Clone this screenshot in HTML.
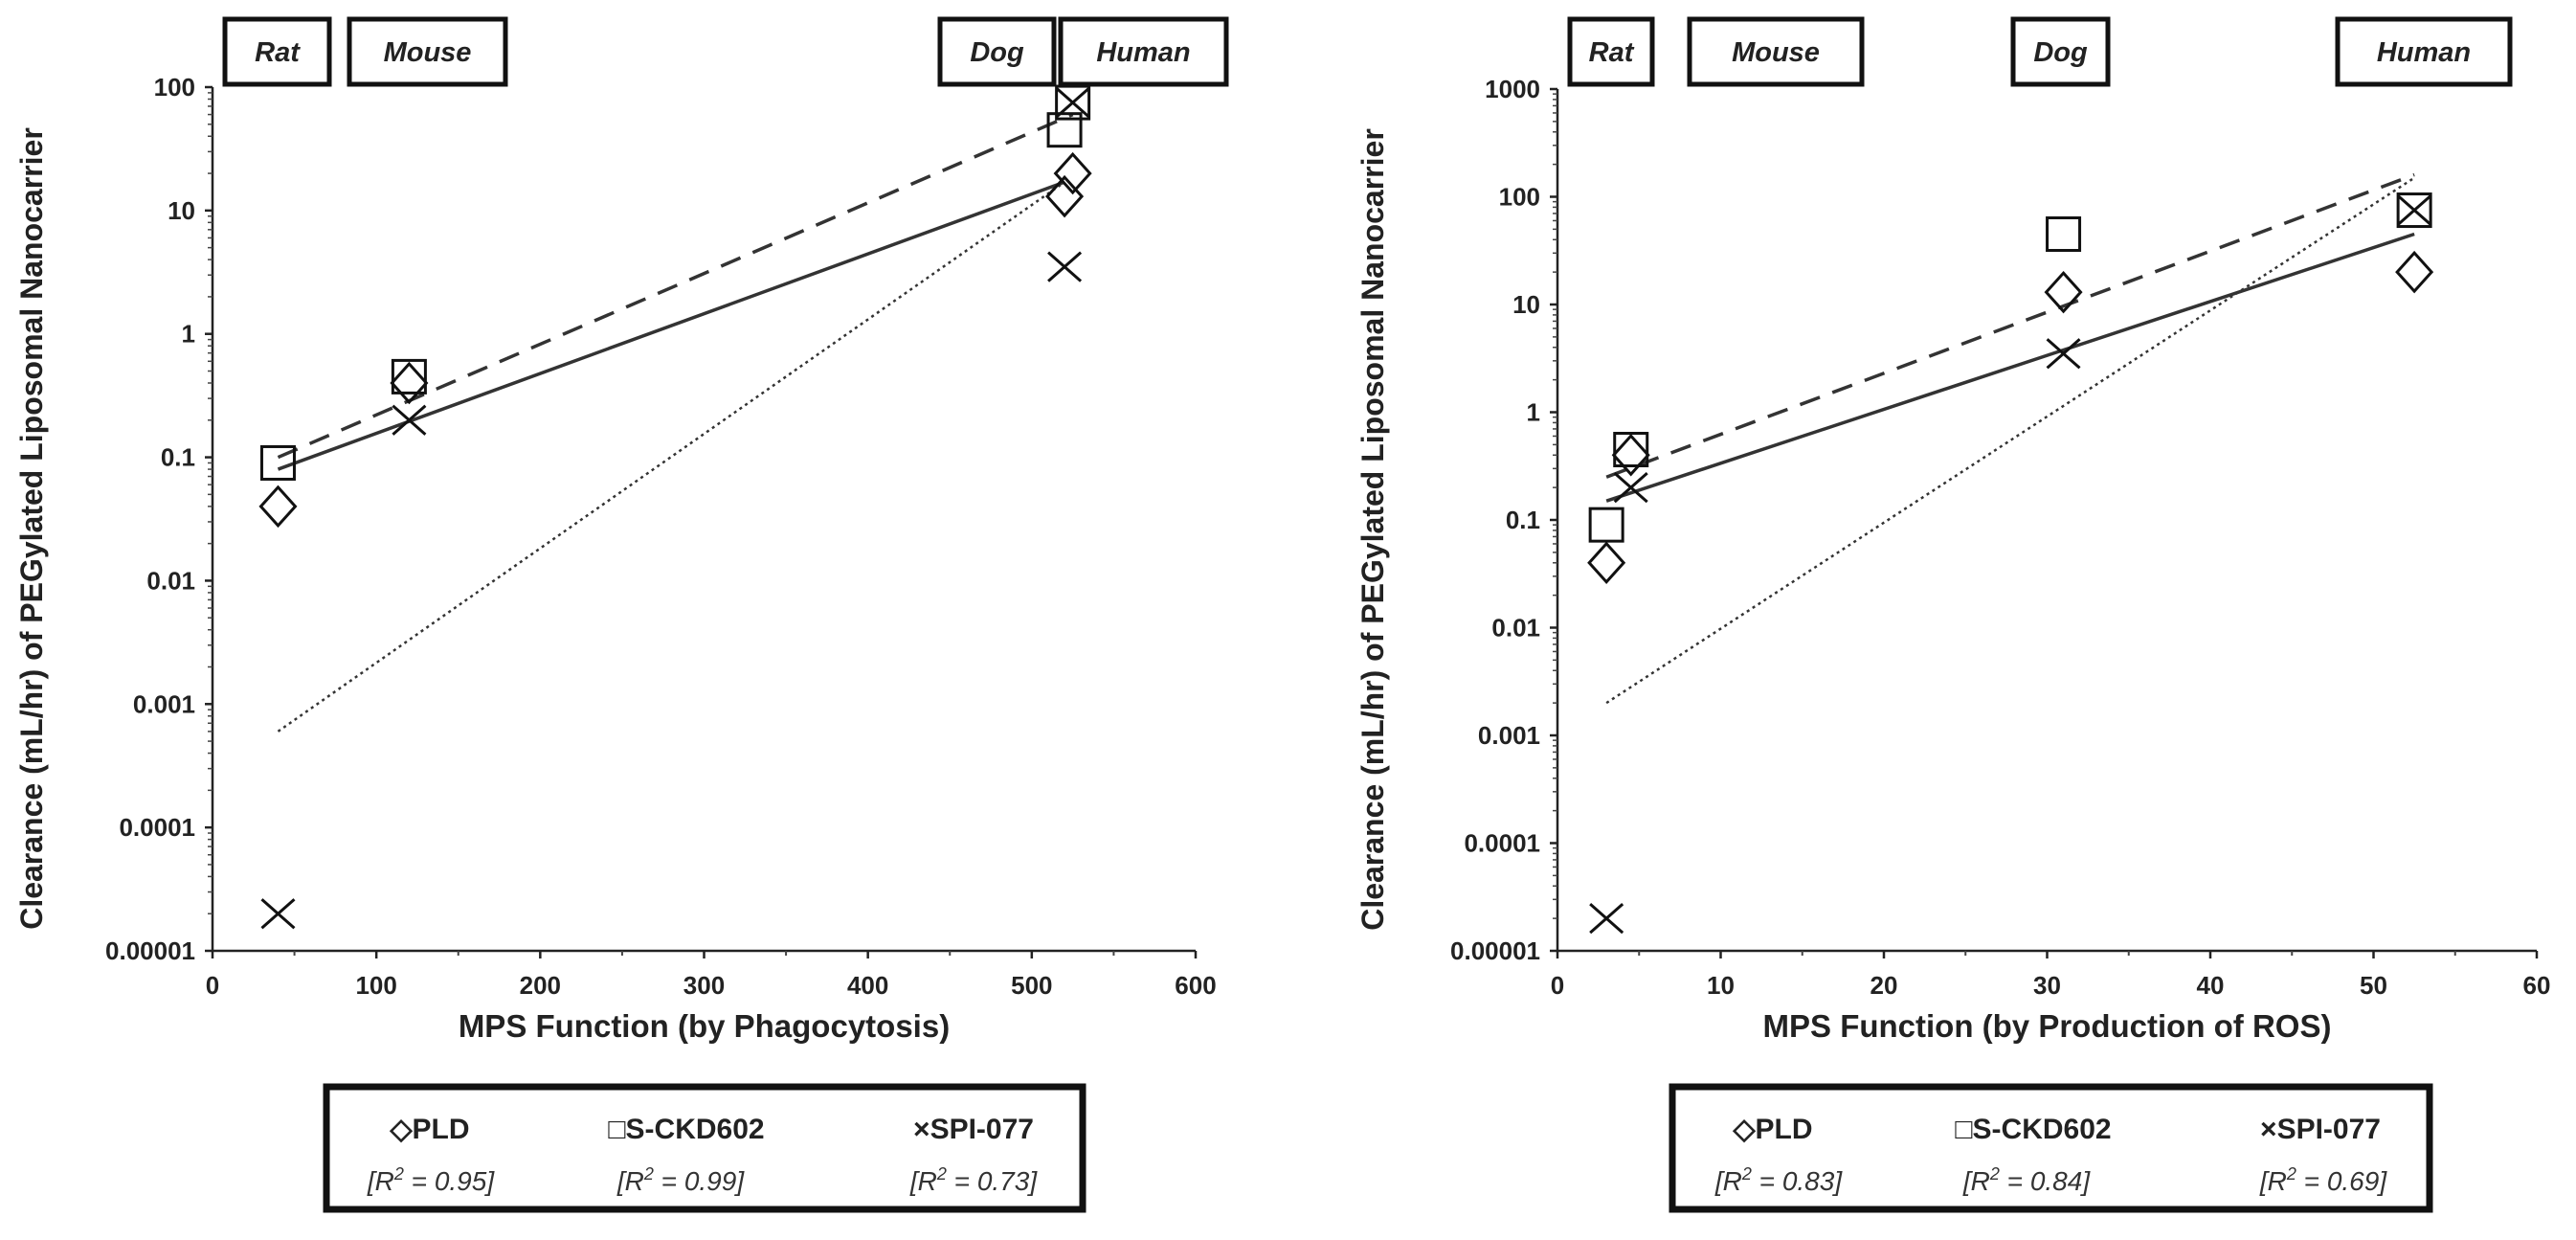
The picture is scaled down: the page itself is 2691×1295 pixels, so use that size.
<!DOCTYPE html>
<html><head><meta charset="utf-8">
<style>
html,body{margin:0;padding:0;background:#fff;}
svg{display:block;font-family:"Liberation Sans",Arial,sans-serif;}
</style></head>
<body>
<svg id="fig" width="2691" height="1295" viewBox="0 0 2691 1295" xmlns="http://www.w3.org/2000/svg"></svg>
<script>
// ---- data ----
const speciesNames = ["Rat","Mouse","Dog","Human"];
const leftX = [40, 120, 520, 525];
const rightX = [3, 4.5, 31, 52.5];
const pldValues = [0.04, 0.4, 13, 20];
const sckdValues = [0.09, 0.45, 45, 75];
const spiValues = [0.00002, 0.2, 3.5, 75];
const leftTrendPLD = [[40, 0.08],[520, 17]];
const leftTrendSCKD = [[40, 0.1],[525, 60]];
const leftTrendSPI = [[40, 0.0006],[520, 17]];
const rightTrendPLD = [[3, 0.15],[52.5, 45]];
const rightTrendSCKD = [[3, 0.25],[52.5, 160]];
const rightTrendSPI = [[3, 0.002],[52.5, 150]];
const leftXTicks = [0,100,200,300,400,500,600];
const rightXTicks = [0,10,20,30,40,50,60];
const leftYTicks = ["0.00001","0.0001","0.001","0.01","0.1","1","10","100"];
const rightYTicks = ["0.00001","0.0001","0.001","0.01","0.1","1","10","100","1000"];
const leftR2 = ["0.95","0.99","0.73"];
const rightR2 = ["0.83","0.84","0.69"];

const NS="http://www.w3.org/2000/svg";
const svg=document.getElementById('fig');
function el(tag,attrs,parent,text){const e=document.createElementNS(NS,tag);for(const k in attrs)e.setAttribute(k,attrs[k]);if(text!==undefined)e.textContent=text;(parent||svg).appendChild(e);return e;}

function makeChart(cfg){
  const g=el('g',{});
  
  
  const {x0,x1,y0,y1,xmax,ymin,ymax}=cfg;
  const sx=v=>x0+(v/xmax)*(x1-x0);
  const lmin=Math.log10(ymin),lmax=Math.log10(ymax);
  const sy=v=>y0-(Math.log10(v)-lmin)/(lmax-lmin)*(y0-y1);
  const ax=el('line',{x1:x0,y1:y0,x2:x0,y2:y1,stroke:'#222','stroke-width':2.5},g);
  
  const bx=el('line',{x1:x0,y1:y0,x2:x1,y2:y0,stroke:'#222','stroke-width':2.5},g);
  
  cfg.yTicks.forEach(t=>{
    const v=parseFloat(t),y=sy(v);
    el('line',{x1:x0-8,y1:y,x2:x0,y2:y,stroke:'#222','stroke-width':2.5},g);
    const tx=el('text',{x:x0-18,y:y+9,'text-anchor':'end','font-size':26,'font-weight':'bold',fill:'#222'},g,t);
    
    if(v<ymax){for(let m=2;m<10;m++){const ym=sy(v*m);el('line',{x1:x0-5,y1:ym,x2:x0,y2:ym,stroke:'#444','stroke-width':1.5},g);}}
  });
  cfg.xTicks.forEach((t,i)=>{
    const x=sx(t);
    el('line',{x1:x,y1:y0,x2:x,y2:y0+8,stroke:'#222','stroke-width':2.5},g);
    if(i<cfg.xTicks.length-1){const xm=sx(t+(cfg.xTicks[1]-cfg.xTicks[0])/2);el('line',{x1:xm,y1:y0,x2:xm,y2:y0+5,stroke:'#444','stroke-width':2},g);}
    const tx=el('text',{x:x,y:y0+45,'text-anchor':'middle','font-size':26,'font-weight':'bold',fill:'#222'},g,String(t));
    
  });
  const yt=el('text',{x:0,y:0,transform:`translate(${cfg.ytx},${(y0+y1)/2+10}) rotate(-90)`,'text-anchor':'middle','font-size':32,'font-weight':'bold',fill:'#222'},g,'Clearance (mL/hr) of PEGylated Liposomal Nanocarrier');
  
  const xt=el('text',{x:(x0+x1)/2,y:y0+90,'text-anchor':'middle','font-size':33,'font-weight':'bold',fill:'#222'},g,cfg.xTitle);
  
  cfg.boxes.forEach((b,i)=>{
    const bg=el('g',{},g);
    
    el('rect',{x:b[0],y:20,width:b[1]-b[0],height:68,fill:'#fff',stroke:'#111','stroke-width':5},bg);
    el('text',{x:(b[0]+b[1])/2,y:64,'text-anchor':'middle','font-size':29,'font-weight':'bold','font-style':'italic',fill:'#222'},bg,speciesNames[i]);
  });
  const trend=(pts,dash,w,name)=>{const l=el('line',{x1:sx(pts[0][0]),y1:sy(pts[0][1]),x2:sx(pts[1][0]),y2:sy(pts[1][1]),stroke:'#333','stroke-width':w,'stroke-dasharray':dash},g);
    };
  trend(cfg.tSCKD,'22,14',3.5,'trend-s-ckd602');
  trend(cfg.tPLD,'none',3.5,'trend-pld');
  trend(cfg.tSPI,'3,4',2.5,'trend-spi-077');
  cfg.xs.forEach((xv,i)=>{
    const x=sx(xv);
    let y=sy(sckdValues[i]);
    const s=el('rect',{x:x-17,y:y-17,width:34,height:34,fill:'none',stroke:'#111','stroke-width':3},g);
    
    y=sy(pldValues[i]);
    const d=el('polygon',{points:`${x},${y-20} ${x+18},${y} ${x},${y+20} ${x-18},${y}`,fill:'none',stroke:'#111','stroke-width':3},g);
    
    y=sy(spiValues[i]);
    const c=el('path',{d:`M${x-17},${y-15}L${x+17},${y+15}M${x-17},${y+15}L${x+17},${y-15}`,fill:'none',stroke:'#111','stroke-width':3},g);
    
  });
  const lg=el('g',{},g);
  
  el('rect',{x:cfg.lx0,y:1135,width:cfg.lx1-cfg.lx0,height:128,fill:'#fff',stroke:'#111','stroke-width':7},lg);
  const labels=['PLD','S-CKD602','SPI-077'],sym=['◇','□','×'];
  labels.forEach((lab,i)=>{
    const cx=cfg.lc[i];
    const t=el('text',{x:cx,y:1189,'text-anchor':'middle','font-size':30,'font-weight':'bold',fill:'#222'},lg);
    
    el('tspan',{'font-size':30},t,sym[i]);
    el('tspan',{},t,lab);
    const r=el('text',{x:cfg.rc[i],y:1243,'text-anchor':'middle','font-size':28,'font-style':'italic',fill:'#333'},lg);
    
    el('tspan',{},r,'[R');
    el('tspan',{'font-size':18,dy:-11},r,'2');
    el('tspan',{dy:11},r,' = '+cfg.r2[i]+']');
  });
}

makeChart({name:'chart-phagocytosis',x0:222,x1:1249,y0:993,y1:91,xmax:600,ymin:0.00001,ymax:100,
  yTicks:leftYTicks,xTicks:leftXTicks,ytx:44,xTitle:'MPS Function (by Phagocytosis)',
  boxes:[[235,344],[365,528],[982,1101],[1108,1281]],
  tPLD:leftTrendPLD,tSCKD:leftTrendSCKD,tSPI:leftTrendSPI,xs:leftX,
  lx0:341,lx1:1131,lc:[449,717,1017],rc:[450,711,1017],r2:leftR2});
makeChart({name:'chart-ros',x0:1627,x1:2650,y0:993,y1:93,xmax:60,ymin:0.00001,ymax:1000,
  yTicks:rightYTicks,xTicks:rightXTicks,ytx:1445,xTitle:'MPS Function (by Production of ROS)',
  boxes:[[1640,1726],[1765,1945],[2103,2202],[2442,2622]],
  tPLD:rightTrendPLD,tSCKD:rightTrendSCKD,tSPI:rightTrendSPI,xs:rightX,
  lx0:1747,lx1:2538,lc:[1852,2124,2424],rc:[1858,2117,2427],r2:rightR2});
</script>
</body></html>
